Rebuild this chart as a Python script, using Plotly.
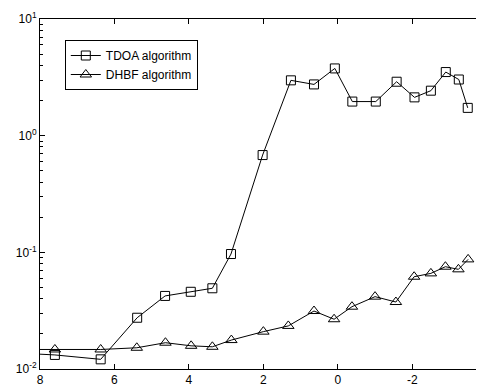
import plotly.graph_objects as go

# x values (reversed axis); first value lies just outside the visible range (line enters from the left edge)
x_tdoa = [8.8, 7.6, 6.37, 5.39, 4.64, 3.95, 3.37, 2.87, 2.02, 1.26, 0.64, 0.08,
          -0.39, -1.02, -1.58, -2.06, -2.5, -2.9, -3.25, -3.49]
y_tdoa = [0.0138, 0.0132, 0.0121, 0.0275, 0.0423, 0.0459, 0.0492, 0.0967, 0.682, 2.98, 2.75, 3.77,
          1.96, 1.96, 2.90, 2.13, 2.43, 3.51, 3.03, 1.73]

x_dhbf = [8.8, 7.6, 6.37, 5.40, 4.63, 3.94, 3.37, 2.86, 2.0, 1.33, 0.64, 0.1,
          -0.38, -1.0, -1.56, -2.05, -2.5, -2.89, -3.24, -3.5]
y_dhbf = [0.0147, 0.0147, 0.0147, 0.0152, 0.0168, 0.0158, 0.0155, 0.0177, 0.0209, 0.0234, 0.0314, 0.0267,
          0.0342, 0.0417, 0.0375, 0.0618, 0.066, 0.0753, 0.0715, 0.087]

x_ticks = [8, 6, 4, 2, 0, -2]
y_ticks = [0.01, 0.1, 1, 10]
y_ticktext = ["10<sup>-2</sup>", "10<sup>-1</sup>", "10<sup>0</sup>", "10<sup>1</sup>"]

font = dict(family="Liberation Sans, Arial, sans-serif", size=12, color="black")

fig = go.Figure()
fig.add_trace(go.Scatter(
    x=x_tdoa, y=y_tdoa, mode="lines+markers", name="TDOA algorithm",
    line=dict(color="black", width=1),
    marker=dict(symbol="square-open", size=9, color="black", line=dict(width=1, color="black")),
))
fig.add_trace(go.Scatter(
    x=x_dhbf, y=y_dhbf, mode="lines+markers", name="DHBF algorithm",
    line=dict(color="black", width=1),
    marker=dict(symbol="triangle-up-open", size=10, color="black", line=dict(width=1, color="black")),
))

# page body has an 8px default margin, so the figure is sized to fill the remaining window
fig.update_layout(
    width=476, height=379,
    margin=dict(l=32, r=1, t=11, b=18),
    paper_bgcolor="white", plot_bgcolor="white",
    font=font,
    showlegend=True,
    legend=dict(x=0.056, y=0.94, xanchor="left", yanchor="top",
                bgcolor="white", bordercolor="black", borderwidth=1,
                font=dict(family="Liberation Sans, Arial, sans-serif", size=12, color="black"),
                itemwidth=30, tracegroupgap=0),
)
fig.update_xaxes(
    range=[8, -3.9], tickvals=x_ticks, ticktext=[str(v) for v in x_ticks],
    ticks="inside", ticklen=5, tickcolor="black", showgrid=False, zeroline=False,
    showline=True, linecolor="black", linewidth=1, mirror="ticks",
    tickfont=font,
)
fig.update_yaxes(
    type="log", range=[-2, 1], tickvals=y_ticks, ticktext=y_ticktext,
    ticks="inside", ticklen=5, tickcolor="black", showgrid=False, zeroline=False,
    showline=True, linecolor="black", linewidth=1, mirror="ticks",
    tickfont=font,
    minor=dict(ticks="inside", ticklen=3, tickcolor="black", showgrid=False, dtick="D1"),
)
# partially visible "-4" tick label at the cropped right edge
fig.add_annotation(x=12 / 11.9, y=0, xref="paper", yref="paper", text="-4",
                   showarrow=False, xanchor="center", yanchor="top", yshift=-2, font=font)

fig.write_html("out.html")
